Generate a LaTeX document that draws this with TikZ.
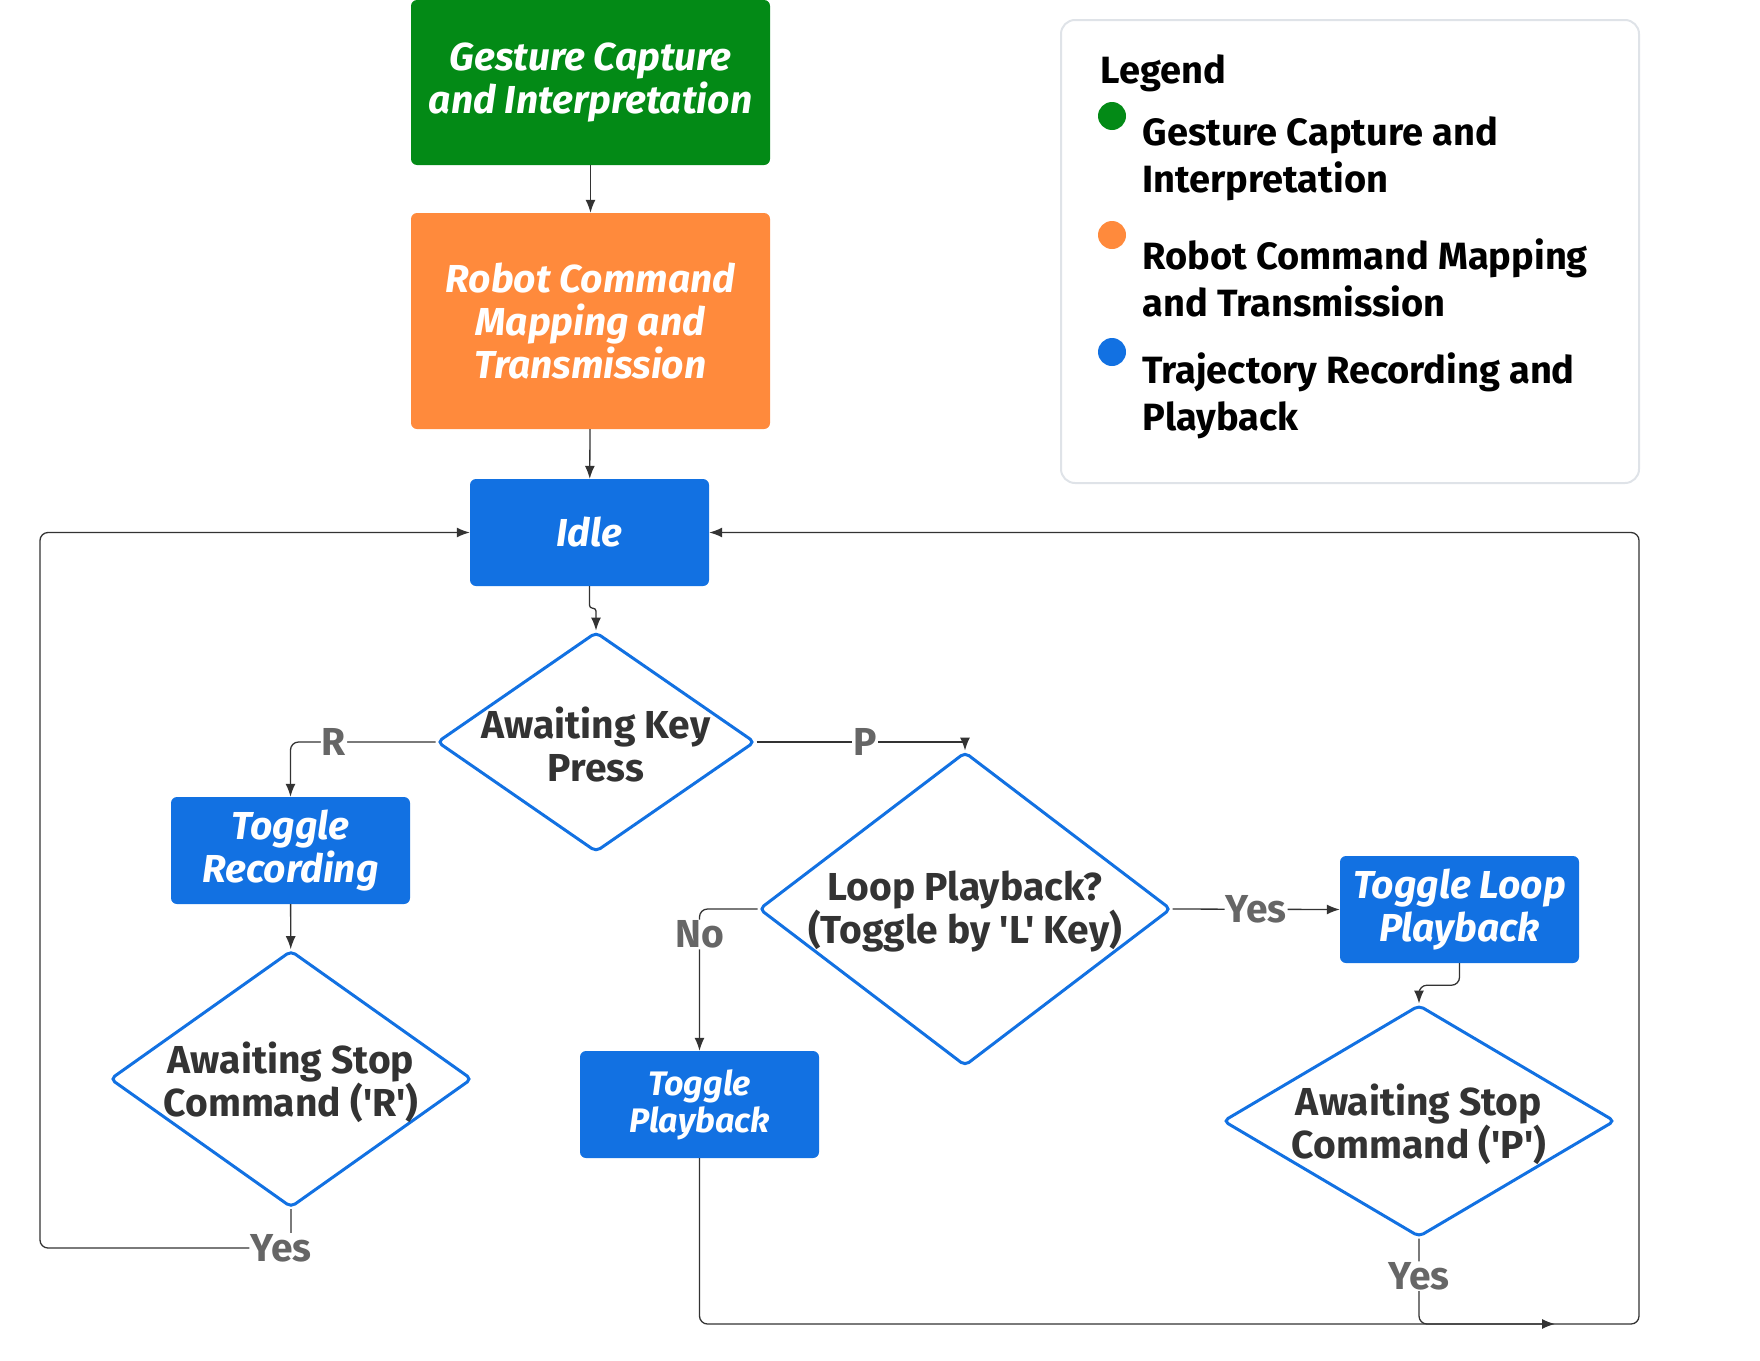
\documentclass[tikz,border=0pt]{standalone}
\usepackage{fontspec}
\setmainfont{Fira Sans}[Ligatures=TeXOff]
\usetikzlibrary{shapes.geometric,arrows.meta}

\definecolor{gcgreen}{HTML}{038A16}
\definecolor{rcorange}{HTML}{FF8A3C}
\definecolor{trblue}{HTML}{1271E2}
\definecolor{linegray}{HTML}{333333}
\definecolor{labelgray}{HTML}{666666}
\definecolor{legendgray}{HTML}{DFE3E8}

\tikzset{
  procbox/.style={rounded corners=6pt, text=white, align=center, inner sep=0pt,
    font=\fontsize{39}{43}\selectfont\bfseries\itshape},
  stepbox/.style={procbox, fill=trblue, minimum width=239pt, minimum height=107pt},
  decision/.style={diamond, draw=trblue, line width=3pt, rounded corners=5pt,
    inner sep=0pt},
  dtext/.style={align=center, text=linegray, yshift=-3pt,
    font=\fontsize{39}{43}\selectfont\bfseries},
  flow/.style={draw=linegray, line width=1.3pt, rounded corners=8pt},
  branch/.style={fill=white, text=labelgray, inner sep=1pt,
    font=\fontsize{39}{40}\selectfont\bfseries},
  legtext/.style={anchor=west, align=left, font=\fontsize{38}{47}\selectfont\bfseries},
  legdot/.style={circle, minimum size=28pt, inner sep=0pt},
}

\begin{document}
\begin{tikzpicture}[x=1pt, y=-1pt, >={Latex[length=13pt,width=10pt]}]
\useasboundingbox (0,0) rectangle (1760,1360);

% legend
\path[draw=legendgray, line width=2pt, rounded corners=14pt] (1061,20) rectangle (1639,483);
\node[legtext] (legtitle) at (1097,73) {Legend};
\node[legdot, fill=gcgreen] (dotg) at (1112,116) {};
\node[legtext] (legg) at (1139,159) {Gesture Capture and\\Interpretation};
\node[legdot, fill=rcorange] (doto) at (1112,235) {};
\node[legtext] (lego) at (1139,278) {Robot Command Mapping\\and Transmission};
\node[legdot, fill=trblue] (dotb) at (1112,352) {};
\node[legtext] (legb) at (1139,396) {Trajectory Recording and\\Playback};

% blocks
\node[procbox, fill=gcgreen, minimum width=359pt, minimum height=165pt] (gesture) at (590.5,82.5)
  {Gesture Capture\\and Interpretation};
\node[procbox, fill=rcorange, minimum width=359pt, minimum height=216pt] (mapping) at (590.5,321)
  {Robot Command\\Mapping and\\Transmission};
\node[stepbox] (idle) at (589.5,532.5) {Idle};
\node[stepbox] (trec) at (290.5,850.5) {Toggle\\Recording};
\node[stepbox, font=\fontsize{34}{37}\selectfont\bfseries\itshape] (tpb) at (699.5,1104.5) {Toggle\\Playback};
\node[stepbox] (tlp) at (1459.5,909.5) {Toggle Loop\\Playback};

% decisions
\node[decision, minimum width=318pt, minimum height=220pt] (key) at (596,742) {};
\node[dtext] (keyt) at (key) {Awaiting Key\\Press};
\node[decision, minimum width=362pt, minimum height=257pt] (stopr) at (291,1079) {};
\node[dtext] (stoprt) at (stopr) {Awaiting Stop\\Command ('R')};
\node[decision, minimum width=412pt, minimum height=314pt] (loop) at (965,909) {};
\node[dtext] (loopt) at (loop) {Loop Playback?\\(Toggle by 'L' Key)};
\node[decision, minimum width=392pt, minimum height=232pt] (stopp) at (1419,1121) {};
\node[dtext] (stoppt) at (stopp) {Awaiting Stop\\Command ('P')};

\coordinate (loopl) at (40,1248);
\coordinate (loopr) at (1639,1324);
\coordinate (merge) at (1555,1324);

% connectors
\draw[flow,->] (gesture) -- (mapping);
\draw[flow,->] (mapping) -- (idle);
\draw[flow,->,rounded corners=3pt] (idle.south) -- ++(0,22) -| (key.north);
\draw[flow,->] (key.west) -| node[branch, pos=0.35] {R} (trec.north);
\draw[flow,->,sharp corners] (key.east) -| node[branch, pos=0.26] {P} (loop.north);
\draw[flow,->] (trec) -- (stopr);
\draw[flow,->] (loop.west) -| node[branch, pos=0.59] {No} (tpb.north);
\draw[flow,->] (loop.east) -- node[branch] {Yes} (tlp.west);
\draw[flow,->] (tlp.south) -- ++(0,22) -| (stopp.north);
\draw[flow,->] (stopr.south) |- node[branch, pos=0.52] {Yes} (loopl) |- (idle.west);
\draw[flow,->] (tpb.south) |- (loopr) |- (idle.east);
\draw[flow,->] (stopp.south) |- node[branch, pos=0.22] {Yes} (merge);
\end{tikzpicture}
\end{document}
